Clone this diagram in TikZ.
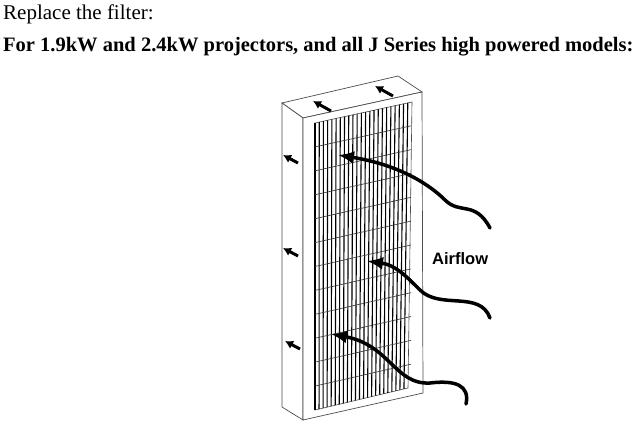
\documentclass[tikz,border=0pt]{standalone}
\usepackage{fontspec}
\setmainfont{Liberation Serif}
\newfontfamily\arial{Liberation Sans}
\usetikzlibrary{arrows.meta}
\begin{document}
\begin{tikzpicture}[x=1pt,y=-1pt,
  frame/.style={draw=black!70,line width=0.7pt,fill=white},
  small/.style={-{Latex[length=8pt,width=9pt]},line width=3pt},
  flow/.style={-{Latex[length=16pt,width=13pt]},line width=3.5pt,line cap=round}]
\useasboundingbox (0,0) rectangle (640,425);
\node[anchor=west,inner sep=0pt,font=\fontsize{21}{24}\selectfont] (t1) at (3,14) {Replace the filter:};
\node[anchor=west,inner sep=0pt,font=\bfseries\fontsize{20.5}{24}\selectfont] (t2) at (3,47) {For 1.9kW and 2.4kW projectors, and all J Series high powered models:};
% box
\draw[frame] (282,103) -- (398,76) -- (422,92) -- (303,118) -- cycle;
\draw[frame] (282,103) -- (303,118) -- (303,420) -- (282,407) -- cycle;
\draw[frame] (303,118) -- (422,92) -- (423,393) -- (303,420) -- cycle;
% grille
\draw[black!70,line width=0.6pt] (315,123) -- (412,102) -- (408,388) -- (315,410) -- cycle;
\foreach \i in {0,...,22}{
  \pgfmathsetmacro\xa{315+\i*97/23}
  \pgfmathsetmacro\ya{123-\i*21/23}
  \pgfmathsetmacro\xb{315+\i*93/23}
  \pgfmathsetmacro\yb{410-\i*22/23}
  \draw[black,line width=1.1pt] (\xa,\ya) -- (\xb,\yb);
}
\foreach \j in {1,...,11}{
  \pgfmathsetmacro\ya{123+\j*287/12}
  \pgfmathsetmacro\yb{102+\j*286/12}
  \draw[black!80,line width=0.6pt] (315,\ya) -- (411,\yb);
}
% small arrows
\draw[small] (331,111) -- (313,101);
\draw[small] (393,96) -- (375,86);
\draw[small] (298,163) -- (283,155);
\draw[small] (298,256) -- (283,248);
\draw[small] (300,349) -- (285,341);
% airflow
\draw[flow] (490,228) .. controls (475,200) and (460,215) .. (445,200)
  .. controls (430,185) and (400,165) .. (338,155);
\draw[flow] (490,318) .. controls (480,290) and (440,310) .. (420,290)
  .. controls (405,275) and (395,265) .. (367,261);
\draw[flow] (466,404) .. controls (470,385) and (455,380) .. (430,383)
  .. controls (395,385) and (390,345) .. (331,334);
\node[anchor=west,inner sep=0pt,font=\arial\bfseries\fontsize{16.5}{19}\selectfont] (af) at (432,259) {Airflow};
\end{tikzpicture}
\end{document}
